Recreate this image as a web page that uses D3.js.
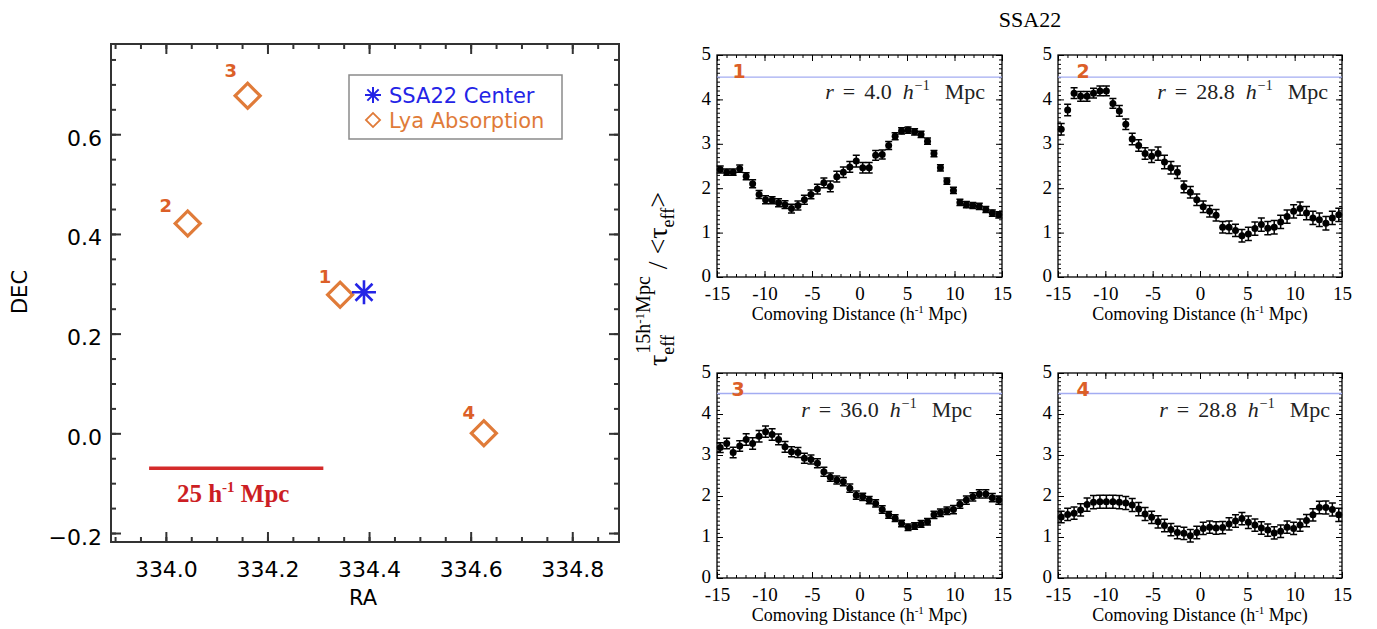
<!DOCTYPE html>
<html>
<head>
<meta charset="utf-8">
<script src="https://cdn.jsdelivr.net/npm/d3@7"></script>
<style>
  body { margin: 0; background: #fff; }
  svg { display: block; }
  text { white-space: pre; }
</style>
</head>
<body>
<script>
// ---------- data: left panel (sky positions)
const raRange = [333.892, 334.892];
const decRange = [-0.218, 0.781];
const raTicks = [334.0, 334.2, 334.4, 334.6, 334.8];
const decTicks = [-0.2, 0.0, 0.2, 0.4, 0.6];
const absRA = [334.343, 334.043, 334.161, 334.626];
const absDEC = [0.278, 0.421, 0.677, 0.0];
const absLabel = ['1', '2', '3', '4'];
const centerRA = 334.39, centerDEC = 0.283;
const barRA = [333.967, 334.31], barDEC = -0.07;

// ---------- data: right panels (tau profiles)
const distTicks = [-15, -10, -5, 0, 5, 10, 15];
const tauTicks = [0, 1, 2, 3, 4, 5];
const meanLine = 4.5;
const dist = [-14.66, -13.98, -13.30, -12.61, -11.93, -11.25, -10.57, -9.89, -9.20, -8.52, -7.84,
  -7.16, -6.48, -5.80, -5.11, -4.43, -3.75, -3.07, -2.39, -1.70, -1.02, -0.34,
  0.34, 1.02, 1.70, 2.39, 3.07, 3.75, 4.43, 5.11, 5.80, 6.48, 7.16,
  7.84, 8.52, 9.20, 9.89, 10.57, 11.25, 11.93, 12.61, 13.30, 13.98, 14.66];

const tau1 = [2.42, 2.36, 2.36, 2.44, 2.27, 2.10, 1.86, 1.74, 1.73, 1.67, 1.63,
  1.54, 1.61, 1.74, 1.86, 1.98, 2.12, 2.04, 2.26, 2.36, 2.48, 2.61,
  2.46, 2.46, 2.74, 2.76, 2.96, 3.17, 3.29, 3.31, 3.27, 3.21, 3.06,
  2.78, 2.46, 2.16, 1.95, 1.68, 1.63, 1.61, 1.59, 1.52, 1.44, 1.40];
const err1 = [0.08, 0.07, 0.07, 0.08, 0.08, 0.09, 0.09, 0.09, 0.08, 0.09, 0.09,
  0.10, 0.10, 0.10, 0.10, 0.11, 0.11, 0.12, 0.12, 0.12, 0.12, 0.13,
  0.12, 0.12, 0.11, 0.10, 0.09, 0.08, 0.07, 0.07, 0.07, 0.07, 0.07,
  0.07, 0.07, 0.07, 0.07, 0.07, 0.07, 0.07, 0.07, 0.07, 0.07, 0.07];

const tau2 = [3.33, 3.76, 4.14, 4.07, 4.07, 4.14, 4.19, 4.19, 3.91, 3.74, 3.44,
  3.11, 2.96, 2.78, 2.72, 2.78, 2.59, 2.46, 2.36, 2.03, 1.91, 1.74,
  1.58, 1.48, 1.39, 1.12, 1.12, 1.05, 0.93, 0.97, 1.09, 1.18, 1.10,
  1.12, 1.24, 1.36, 1.48, 1.54, 1.44, 1.33, 1.29, 1.21, 1.33, 1.40];
const err2 = [0.13, 0.13, 0.12, 0.11, 0.11, 0.11, 0.11, 0.11, 0.11, 0.12, 0.12,
  0.13, 0.13, 0.13, 0.14, 0.15, 0.15, 0.14, 0.14, 0.13, 0.13, 0.13,
  0.13, 0.13, 0.13, 0.13, 0.14, 0.14, 0.14, 0.15, 0.15, 0.15, 0.15,
  0.15, 0.15, 0.15, 0.15, 0.15, 0.15, 0.15, 0.15, 0.15, 0.15, 0.15];

const tau3 = [3.18, 3.28, 3.06, 3.22, 3.38, 3.28, 3.46, 3.57, 3.50, 3.38, 3.20,
  3.08, 3.06, 2.92, 2.89, 2.80, 2.59, 2.46, 2.39, 2.35, 2.19, 2.02,
  1.98, 1.90, 1.82, 1.67, 1.54, 1.46, 1.33, 1.24, 1.27, 1.32, 1.37,
  1.54, 1.59, 1.64, 1.67, 1.80, 1.90, 1.98, 2.05, 2.05, 1.96, 1.90];
const err3 = [0.12, 0.13, 0.13, 0.13, 0.14, 0.14, 0.14, 0.14, 0.14, 0.13, 0.13,
  0.12, 0.12, 0.12, 0.11, 0.11, 0.11, 0.10, 0.10, 0.10, 0.10, 0.10,
  0.09, 0.09, 0.09, 0.09, 0.08, 0.08, 0.08, 0.08, 0.08, 0.08, 0.08,
  0.09, 0.09, 0.09, 0.10, 0.10, 0.10, 0.10, 0.10, 0.10, 0.10, 0.10];

const tau4 = [1.49, 1.55, 1.58, 1.66, 1.79, 1.85, 1.86, 1.86, 1.86, 1.85, 1.83,
  1.78, 1.68, 1.56, 1.48, 1.37, 1.28, 1.18, 1.11, 1.09, 1.03, 1.11,
  1.21, 1.24, 1.22, 1.23, 1.32, 1.39, 1.45, 1.36, 1.29, 1.22, 1.17,
  1.10, 1.14, 1.24, 1.21, 1.29, 1.40, 1.54, 1.72, 1.72, 1.67, 1.54];
const err4 = [0.14, 0.15, 0.15, 0.15, 0.16, 0.16, 0.16, 0.16, 0.16, 0.16, 0.16,
  0.16, 0.16, 0.16, 0.15, 0.15, 0.15, 0.15, 0.15, 0.15, 0.15, 0.15,
  0.15, 0.15, 0.15, 0.15, 0.15, 0.15, 0.15, 0.15, 0.15, 0.15, 0.15,
  0.15, 0.15, 0.15, 0.15, 0.15, 0.15, 0.15, 0.15, 0.16, 0.16, 0.16];

const panelNames = ['1', '2', '3', '4'];
const panelRadius = ['4.0', '28.8', '36.0', '28.8'];
const panelTau = [tau1, tau2, tau3, tau4];
const panelErr = [err1, err2, err3, err4];

// ---------- styles
const SANS = 'DejaVu Sans';
const SERIF = 'Liberation Serif';
const ORANGE = '#e07b39';
const ORANGE_LBL = '#dc5f28';
const BLUE = '#2424e6';
const RED = '#cc1e24';

const svg = d3.select('body').append('svg')
    .attr('width', 1377)
    .attr('height', 629);

// generic boxed axes, ticks pointing inward on all four sides
function boxAxes(g, sx, sy, o) {
    const [x0, x1] = sx.range();
    const [y1, y0] = sy.range();

    const style = a => a
        .call(a => a.select('.domain').remove())
        .call(a => a.selectAll('line').attr('stroke', o.color).attr('stroke-width', o.tickWidth))
        .attr('font-family', o.font)
        .attr('font-size', o.fontSize)
        .call(a => a.selectAll('text').attr('fill', '#000'));

    // minor ticks
    g.append('g').attr('transform', `translate(0,${y1})`)
        .call(d3.axisBottom(sx).tickValues(sx.ticks(o.xMinor)).tickFormat('').tickSize(-o.minor)).call(style);
    g.append('g').attr('transform', `translate(0,${y0})`)
        .call(d3.axisTop(sx).tickValues(sx.ticks(o.xMinor)).tickFormat('').tickSize(-o.minor)).call(style);
    g.append('g').attr('transform', `translate(${x0},0)`)
        .call(d3.axisLeft(sy).tickValues(sy.ticks(o.yMinor)).tickFormat('').tickSize(-o.minor)).call(style);
    g.append('g').attr('transform', `translate(${x1},0)`)
        .call(d3.axisRight(sy).tickValues(sy.ticks(o.yMinor)).tickFormat('').tickSize(-o.minor)).call(style);

    // major ticks with labels
    g.append('g').attr('transform', `translate(0,${y1})`)
        .call(d3.axisBottom(sx).tickValues(o.xTicks).tickFormat(o.xFmt).tickSize(-o.major).tickPadding(o.xPad)).call(style);
    g.append('g').attr('transform', `translate(0,${y0})`)
        .call(d3.axisTop(sx).tickValues(o.xTicks).tickFormat('').tickSize(-o.major)).call(style);
    g.append('g').attr('transform', `translate(${x0},0)`)
        .call(d3.axisLeft(sy).tickValues(o.yTicks).tickFormat(o.yFmt).tickSize(-o.major).tickPadding(o.yPad)).call(style)
        .call(a => a.selectAll('text').attr('dy', o.yDy));
    g.append('g').attr('transform', `translate(${x1},0)`)
        .call(d3.axisRight(sy).tickValues(o.yTicks).tickFormat('').tickSize(-o.major)).call(style);

    g.append('rect')
        .attr('x', x0).attr('y', y0)
        .attr('width', x1 - x0).attr('height', y1 - y0)
        .attr('fill', 'none')
        .attr('stroke', o.color)
        .attr('stroke-width', o.frameWidth);
}

function asterisk(r) {
    const d = r * Math.SQRT1_2;
    return `M${-r},0H${r}M0,${-r}V${r}M${-d},${-d}L${d},${d}M${-d},${d}L${d},${-d}`;
}

// ================= left panel =================
const ra = d3.scaleLinear().domain(raRange).range([111, 619]);
const dec = d3.scaleLinear().domain(decRange).range([542, 44]);
const left = svg.append('g');

const fmtMinus = v => d3.format('.1f')(v).replace('-', '\u2212');
boxAxes(left, ra, dec, {
    xTicks: raTicks, yTicks: decTicks, xMinor: 20, yMinor: 20,
    xFmt: fmtMinus, yFmt: fmtMinus,
    major: 10, minor: 5, xPad: 19, yPad: 9, yDy: '0.5em',
    color: '#333', tickWidth: 2, frameWidth: 2,
    font: SANS, fontSize: 22
});

left.append('text')
    .attr('x', 363).attr('y', 605)
    .attr('text-anchor', 'middle')
    .attr('font-family', SANS).attr('font-size', 21)
    .text('RA');

left.append('text')
    .attr('transform', 'translate(27,292) rotate(-90)')
    .attr('text-anchor', 'middle')
    .attr('font-family', SANS).attr('font-size', 21)
    .text('DEC');

// scale bar
left.append('line')
    .attr('x1', ra(barRA[0])).attr('x2', ra(barRA[1]))
    .attr('y1', dec(barDEC)).attr('y2', dec(barDEC))
    .attr('stroke', '#d42a2a').attr('stroke-width', 3.5);

const bar = left.append('text')
    .attr('x', (ra(barRA[0]) + ra(barRA[1])) / 2 - 3)
    .attr('y', 502)
    .attr('text-anchor', 'middle')
    .attr('font-family', SERIF).attr('font-weight', 'bold').attr('font-size', 25)
    .attr('fill', RED);
bar.append('tspan').text('25 h');
bar.append('tspan').attr('font-size', 15).attr('dy', -10).text('-1');
bar.append('tspan').attr('dy', 10).text(' Mpc');

// absorption sightlines
const diamond = d3.symbol(d3.symbolSquare, 313);
left.selectAll('path.abs')
    .data(absRA)
    .join('path')
    .attr('class', 'abs')
    .attr('d', diamond)
    .attr('transform', (d, i) => `translate(${ra(d)},${dec(absDEC[i])}) rotate(45)`)
    .attr('fill', 'none')
    .attr('stroke', ORANGE)
    .attr('stroke-width', 3.2);

const labelOffset = [[-15, -18], [-22, -18], [-17, -25], [-15, -21]];
left.selectAll('text.abslbl')
    .data(absLabel)
    .join('text')
    .attr('class', 'abslbl')
    .attr('x', (d, i) => ra(absRA[i]) + labelOffset[i][0])
    .attr('y', (d, i) => dec(absDEC[i]) + labelOffset[i][1] + 6.5)
    .attr('text-anchor', 'middle')
    .attr('font-family', SANS).attr('font-weight', 'bold').attr('font-size', 18)
    .attr('fill', ORANGE_LBL)
    .text(d => d);

// SSA22 centre
left.append('path')
    .attr('d', asterisk(12))
    .attr('transform', `translate(${ra(centerRA)},${dec(centerDEC)})`)
    .attr('stroke', BLUE).attr('stroke-width', 2.6).attr('fill', 'none');

// legend
const leg = left.append('g');
leg.append('rect')
    .attr('x', 349).attr('y', 75).attr('width', 213).attr('height', 64)
    .attr('fill', '#fff').attr('stroke', '#8a8a8a').attr('stroke-width', 1.5);
leg.append('path')
    .attr('d', asterisk(8))
    .attr('transform', 'translate(373,95)')
    .attr('stroke', BLUE).attr('stroke-width', 2).attr('fill', 'none');
leg.append('text')
    .attr('x', 389).attr('y', 102.5)
    .attr('font-family', SANS).attr('font-size', 21)
    .attr('fill', BLUE)
    .text('SSA22 Center');
leg.append('path')
    .attr('d', d3.symbol(d3.symbolSquare, 100))
    .attr('transform', 'translate(373,120) rotate(45)')
    .attr('stroke', ORANGE).attr('stroke-width', 1.8).attr('fill', 'none');
leg.append('text')
    .attr('x', 389).attr('y', 127.5)
    .attr('font-family', SANS).attr('font-size', 21)
    .attr('fill', ORANGE)
    .text('Lya Absorption');

// ================= right panels =================
const frames = [
    {x0: 717, x1: 1002, y0: 55, y1: 277, rEnd: 17},
    {x0: 1058, x1: 1342, y0: 55, y1: 277, rEnd: 14},
    {x0: 717, x1: 1002, y0: 373, y1: 578, rEnd: 30},
    {x0: 1058, x1: 1342, y0: 373, y1: 578, rEnd: 12}
];
const numOffset = [22, 25, 21, 25];

svg.append('text')
    .attr('x', 1030).attr('y', 27)
    .attr('text-anchor', 'middle')
    .attr('font-family', SERIF).attr('font-size', 22)
    .text('SSA22');

panelNames.forEach((name, i) => {
    const f = frames[i];
    const px = d3.scaleLinear().domain([-15, 15]).range([f.x0, f.x1]);
    const py = d3.scaleLinear().domain([0, 5]).range([f.y1, f.y0]);
    const g = svg.append('g');

    boxAxes(g, px, py, {
        xTicks: distTicks, yTicks: tauTicks, xMinor: 30, yMinor: 50,
        xFmt: d => String(d), yFmt: d => String(d),
        major: 6, minor: 3, xPad: 10, yPad: 6, yDy: '0.26em',
        color: '#000', tickWidth: 1, frameWidth: 1.3,
        font: SERIF, fontSize: 19
    });

    g.append('line')
        .attr('x1', f.x0).attr('x2', f.x1)
        .attr('y1', py(meanLine)).attr('y2', py(meanLine))
        .attr('stroke', '#a3acf2').attr('stroke-width', 1.3);

    const pts = dist.map((d, k) => ({d: d, v: panelTau[i][k], e: panelErr[i][k]}));

    g.append('g')
        .selectAll('path')
        .data(pts)
        .join('path')
        .attr('d', p => {
            const x = px(p.d), hi = py(p.v + p.e), lo = py(p.v - p.e);
            return `M${x - 3.5},${hi}H${x + 3.5}M${x},${hi}V${lo}M${x - 3.5},${lo}H${x + 3.5}`;
        })
        .attr('fill', 'none')
        .attr('stroke', '#000')
        .attr('stroke-width', 1.5);

    g.append('g')
        .selectAll('circle')
        .data(pts)
        .join('circle')
        .attr('cx', p => px(p.d))
        .attr('cy', p => py(p.v))
        .attr('r', 3.5)
        .attr('fill', '#000');

    g.append('text')
        .attr('x', f.x0 + numOffset[i]).attr('y', f.y0 + 23)
        .attr('text-anchor', 'middle')
        .attr('font-family', SANS).attr('font-weight', 'bold').attr('font-size', 19)
        .attr('fill', ORANGE_LBL)
        .text(name);

    const rl = g.append('text')
        .attr('x', f.x1 - f.rEnd).attr('y', f.y0 + 44)
        .attr('text-anchor', 'end')
        .attr('font-family', SERIF).attr('font-size', 22)
        .attr('fill', '#222');
    rl.append('tspan').attr('font-style', 'italic').text('r');
    rl.append('tspan').attr('dx', 9).text('=');
    rl.append('tspan').attr('dx', 9).text(panelRadius[i]);
    rl.append('tspan').attr('dx', 11).attr('font-style', 'italic').text('h');
    rl.append('tspan').attr('dx', 1).attr('font-size', 14).attr('dy', -9).text('\u22121');
    rl.append('tspan').attr('dx', 15).attr('dy', 9).text('Mpc');

    const xl = g.append('text')
        .attr('x', (f.x0 + f.x1) / 2).attr('y', f.y1 + 43)
        .attr('text-anchor', 'middle')
        .attr('font-family', SERIF).attr('font-size', 18);
    xl.append('tspan').text('Comoving Distance (h');
    xl.append('tspan').attr('font-size', 11).attr('dy', -7).text('-1');
    xl.append('tspan').attr('dy', 7).text(' Mpc)');
});

// shared y label
const yl = svg.append('text')
    .attr('transform', 'translate(667,366) rotate(-90)')
    .attr('font-family', SERIF).attr('font-size', 28);
yl.append('tspan').text('\u03c4');
const eff1 = yl.append('tspan').attr('font-size', 18).attr('dy', 7).text('eff');
const w1 = eff1.node().getComputedTextLength();
yl.append('tspan').attr('font-size', 20).attr('dx', -w1 + 1).attr('dy', -24).text('15h');
yl.append('tspan').attr('font-size', 13).attr('dy', -6).text('-1');
yl.append('tspan').attr('font-size', 20).attr('dy', 6).text('Mpc');
yl.append('tspan').attr('dy', 17).text(' / <\u03c4');
yl.append('tspan').attr('font-size', 18).attr('dy', 7).text('eff');
yl.append('tspan').attr('dy', -7).text('>');
</script>
</body>
</html>
